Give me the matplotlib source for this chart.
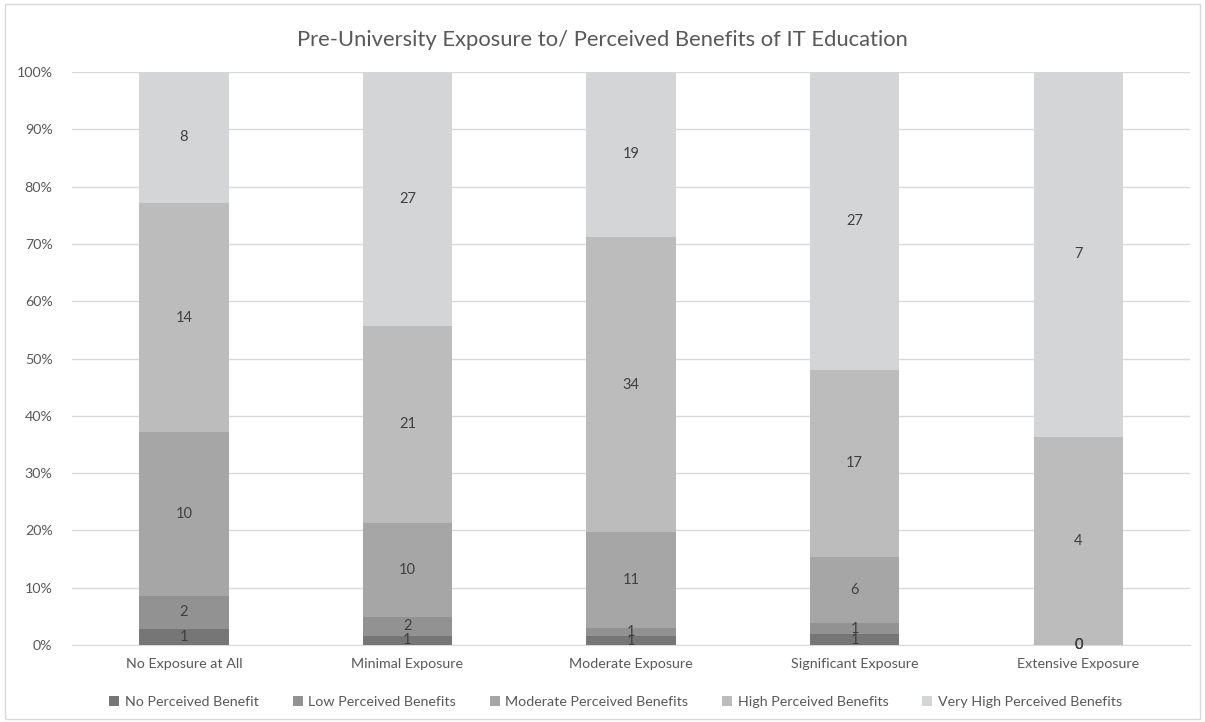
import numpy as np
import matplotlib.pyplot as plt
from matplotlib.patches import Rectangle
from matplotlib.ticker import PercentFormatter

plt.rcParams["font.family"] = ["Lato", "DejaVu Sans"]

categories = ["No Exposure at All", "Minimal Exposure", "Moderate Exposure",
              "Significant Exposure", "Extensive Exposure"]
series = ["No Perceived Benefit", "Low Perceived Benefits", "Moderate Perceived Benefits",
          "High Perceived Benefits", "Very High Perceived Benefits"]
no_benefit = [1, 1, 1, 1, 0]
low_benefit = [2, 2, 1, 1, 0]
moderate_benefit = [10, 10, 11, 6, 0]
high_benefit = [14, 21, 34, 17, 4]
very_high_benefit = [8, 27, 19, 27, 7]

colors = ["#767676", "#929292", "#a6a6a6", "#bcbcbd", "#d4d5d7"]

counts = np.array([no_benefit, low_benefit, moderate_benefit,
                   high_benefit, very_high_benefit], dtype=float)
shares = counts / counts.sum(axis=0) * 100

fig = plt.figure(figsize=(12.05, 7.22), dpi=100)
ax = fig.add_axes([0.0598, 0.1066, 0.9278, 0.7937])

x = np.arange(len(categories))
bottom = np.zeros(len(categories))
for k, name in enumerate(series):
    ax.bar(x, shares[k], width=0.4, bottom=bottom, color=colors[k],
           label=name, zorder=3)
    for j in range(len(categories)):
        ax.text(x[j], bottom[j] + shares[k][j] / 2, f"{int(counts[k][j])}",
                ha="center", va="center", fontsize=10.5, color="#404040", zorder=4)
    bottom += shares[k]

ax.set_xlim(-0.5, len(categories) - 0.5)
ax.set_ylim(0, 100)
ax.set_yticks(range(0, 101, 10))
ax.yaxis.set_major_formatter(PercentFormatter(decimals=0))
ax.set_xticks(x)
ax.set_xticklabels(categories)
ax.tick_params(axis="both", length=0, labelsize=10.3, colors="#595959")
ax.tick_params(axis="y", pad=14)
ax.tick_params(axis="x", pad=9)
ax.grid(axis="y", color="#d9d9d9", linewidth=1, zorder=0)
for side in ["top", "right", "left"]:
    ax.spines[side].set_visible(False)
ax.spines["bottom"].set_color("#d9d9d9")

fig.text(0.5, 0.945, "Pre-University Exposure to/ Perceived Benefits of IT Education",
         ha="center", va="center", fontsize=15.8, color="#595959")

leg = fig.legend(loc="center", bbox_to_anchor=(0.511, 0.028), ncol=5, frameon=False,
                 fontsize=10.3, handlelength=0.7, handleheight=0.7, handletextpad=0.4,
                 columnspacing=2.35, labelcolor="#595959")

# outer chart frame
fig.patches.append(Rectangle((0.004, 0.004), 0.992, 0.99, transform=fig.transFigure,
                             fill=False, edgecolor="#d9d9d9", linewidth=1))

fig.savefig("out.png", dpi=100, facecolor="white")
